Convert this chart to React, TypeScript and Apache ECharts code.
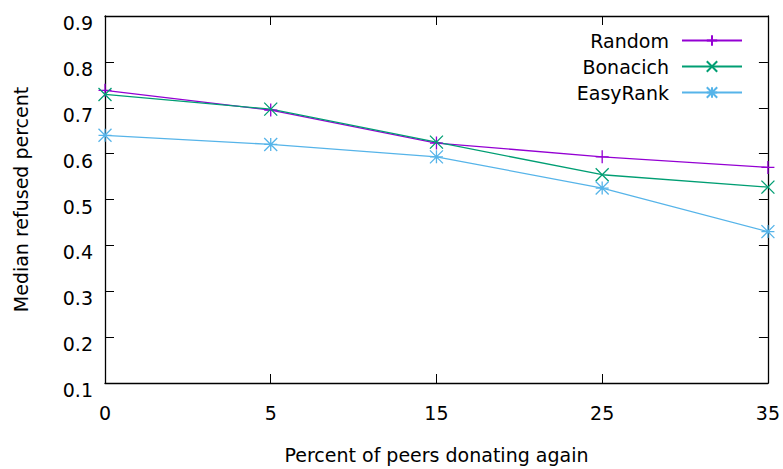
import React, { useEffect, useRef } from "react";
import * as echarts from "echarts";

// Percent of peers donating again (evenly spaced categories)
const categories = ["0", "5", "15", "25", "35"];

// Median refused percent per strategy
const randomValues = [0.738, 0.695, 0.623, 0.593, 0.570];
const bonacichValues = [0.729, 0.697, 0.625, 0.554, 0.527];
const easyRankValues = [0.640, 0.620, 0.593, 0.525, 0.430];

const seriesNames = ["Random", "Bonacich", "EasyRank"];
const seriesColors = ["#9400d3", "#009e73", "#56b4e9"];

// gnuplot-style point markers drawn as stroked paths
const PLUS = "path://M5,0L5,10M0,5L10,5";
const CROSS = "path://M0,0L10,10M10,0L0,10";
const STAR = "path://M5,0L5,10M0,5L10,5M0,0L10,10M10,0L0,10";

const FONT = "DejaVu Sans";
const FONT_SIZE = 19;

export default function App() {
  const ref = useRef<HTMLDivElement>(null);

  useEffect(() => {
    if (!ref.current) return;
    const chart = echarts.init(ref.current, undefined, { renderer: "svg" });

    const makeSeries = (name: string, data: number[], color: string, symbol: string) => ({
      name,
      type: "line",
      data,
      symbol,
      symbolSize: 13,
      showAllSymbol: true,
      lineStyle: { color, width: 1.3 },
      itemStyle: { color, borderColor: color, borderWidth: 1.3 },
      emphasis: { disabled: true },
    });

    const axisLine = { show: true, lineStyle: { color: "#000", width: 1.3 } };
    const innerTick = { show: true, inside: true, length: 9, lineStyle: { color: "#000" } };

    chart.setOption({
      animation: false,
      backgroundColor: "#fff",
      textStyle: { fontFamily: FONT },
      grid: { left: 105, right: 15, top: 16, bottom: 80, containLabel: false },
      legend: {
        orient: "vertical",
        right: 35,
        top: 26,
        align: "right",
        itemWidth: 60,
        itemHeight: 13,
        itemGap: 7,
        data: seriesNames,
        textStyle: {
          fontFamily: FONT,
          fontSize: FONT_SIZE,
          color: "#000",
          width: 110,
          align: "right",
          padding: [0, 8, 0, 0],
        },
      },
      xAxis: [
        {
          type: "category",
          data: categories,
          boundaryGap: false,
          position: "bottom",
          name: "Percent of peers donating again",
          nameLocation: "middle",
          nameGap: 62,
          nameTextStyle: { fontFamily: FONT, fontSize: FONT_SIZE, color: "#000" },
          axisLine,
          axisTick: innerTick,
          axisLabel: { color: "#000", fontSize: FONT_SIZE, fontFamily: FONT, margin: 20 },
          splitLine: { show: false },
        },
        {
          type: "category",
          data: categories,
          boundaryGap: false,
          position: "top",
          axisLine,
          axisTick: innerTick,
          axisLabel: { show: false },
          splitLine: { show: false },
        },
      ],
      yAxis: [
        {
          type: "value",
          min: 0.1,
          max: 0.9,
          interval: 0.1,
          position: "left",
          name: "Median refused percent",
          nameLocation: "middle",
          nameGap: 75,
          nameTextStyle: { fontFamily: FONT, fontSize: FONT_SIZE, color: "#000" },
          axisLine,
          axisTick: innerTick,
          axisLabel: {
            color: "#000",
            fontSize: FONT_SIZE,
            fontFamily: FONT,
            margin: 12,
            verticalAlign: "top",
            lineHeight: 14,
            formatter: (v: number) => v.toFixed(1),
          },
          splitLine: { show: false },
        },
        {
          type: "value",
          min: 0.1,
          max: 0.9,
          interval: 0.1,
          position: "right",
          axisLine,
          axisTick: innerTick,
          axisLabel: { show: false },
          splitLine: { show: false },
        },
      ],
      series: [
        makeSeries(seriesNames[0], randomValues, seriesColors[0], PLUS),
        makeSeries(seriesNames[1], bonacichValues, seriesColors[1], CROSS),
        makeSeries(seriesNames[2], easyRankValues, seriesColors[2], STAR),
      ],
    });

    return () => chart.dispose();
  }, []);

  return (
    <div
      ref={ref}
      style={{ position: "absolute", left: 0, top: 0, width: 783, height: 469 }}
    />
  );
}
